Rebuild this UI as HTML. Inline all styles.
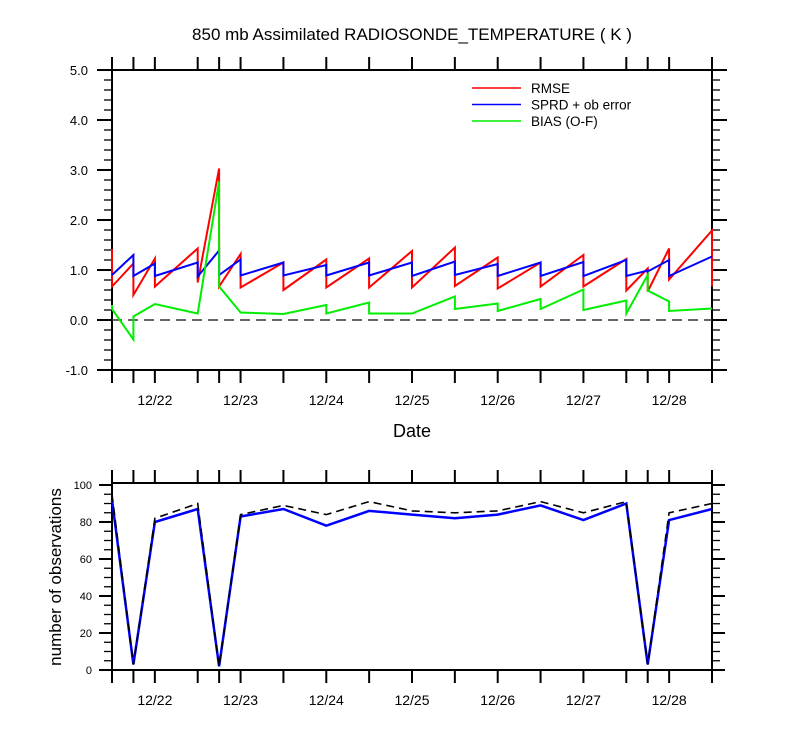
<!DOCTYPE html>
<html><head><meta charset="utf-8"><style>
body{margin:0;background:#fff;}
svg{display:block;font-family:"Liberation Sans",sans-serif;}
</style></head><body>
<svg id="c" width="800" height="750" xmlns="http://www.w3.org/2000/svg"></svg>
<script>
// data: hours since 12/21 12Z; duplicated times give the vertical jumps
const times = [0,0,6,6,12,12,24,24,30,30,36,36,48,48,60,60,72,72,84,84,96,96,108,108,120,120,132,132,144,144,150,150,156,156,168,168];
const rmse = [1.42,0.67,1.13,0.5,1.23,0.67,1.43,0.75,3.03,0.67,1.32,0.65,1.15,0.6,1.21,0.65,1.23,0.65,1.38,0.65,1.45,0.68,1.25,0.63,1.15,0.67,1.3,0.67,1.22,0.59,1.03,0.57,1.43,0.81,1.79,0.67];
const sprd = [0.9,0.9,1.3,0.88,1.13,0.88,1.15,0.87,1.39,0.9,1.21,0.89,1.15,0.89,1.1,0.89,1.15,0.89,1.15,0.88,1.17,0.9,1.12,0.88,1.15,0.88,1.16,0.88,1.2,0.88,0.99,0.97,1.2,0.88,1.27,1.27];
const bias = [0.3,0.22,-0.39,0.07,0.32,0.32,0.13,0.13,2.77,0.67,0.15,0.15,0.12,0.12,0.3,0.13,0.35,0.13,0.13,0.13,0.47,0.22,0.33,0.18,0.42,0.22,0.61,0.2,0.39,0.13,0.9,0.59,0.37,0.18,0.23,0.23];
const obsTimes = [0,6,12,24,30,36,48,60,72,84,96,108,120,132,144,150,156,168];
const nAssim = [92,3,80,87,2,83,87,78,86,84,82,84,89,81,90,3,81,87];
const nTotal = [95,3,82,90,2,84,89,84,91,86,85,86,91,85,91,3,85,90];
const yTicks1 = [-1,0,1,2,3,4,5];
const yTicks2 = [0,20,40,60,80,100];
const xTickHours = [0,6,12,24,30,36,48,60,72,84,96,108,120,132,144,150,156,168];
const dateLabels = ["12/22","12/23","12/24","12/25","12/26","12/27","12/28"];
const dateHours = [12,36,60,84,108,132,156];

const svg=document.getElementById('c');const NS='http://www.w3.org/2000/svg';
function mk(t,a,p){const e=document.createElementNS(NS,t);for(const k in a)e.setAttribute(k,a[k]);(p||svg).appendChild(e);return e;}
const X0=112,X1=712;
const xs=h=>X0+(X1-X0)*h/168;
const y1=v=>320-50*v;
const y2=v=>670-1.85*v;

function frame(top,bot,name){
  const r=mk('rect',{x:X0,y:top,width:X1-X0,height:bot-top,fill:'none',stroke:'#000','stroke-width':2});
  
  xTickHours.forEach(h=>{
    const x=xs(h);
    mk('line',{x1:x,x2:x,y1:bot,y2:bot+13,stroke:'#000','stroke-width':2});
    mk('line',{x1:x,x2:x,y1:top,y2:top-13,stroke:'#000','stroke-width':2});
  });
  dateLabels.forEach((d,i)=>{
    const t=mk('text',{x:xs(dateHours[i]),y:bot+35,'text-anchor':'middle','font-size':14});
    t.textContent=d;
    
  });
}
function series(xa,ya,fx,fy,color,w,dash,name){
  const pts=xa.map((h,i)=>fx(h).toFixed(1)+','+fy(ya[i]).toFixed(1)).join(' ');
  const a={points:pts,fill:'none',stroke:color,'stroke-width':w,'stroke-linejoin':'miter'};
  if(dash)a['stroke-dasharray']=dash;
  const p=mk('polyline',a);
  
}

let t=mk('text',{x:412,y:40,'text-anchor':'middle','font-size':17});
t.textContent='850 mb Assimilated RADIOSONDE_TEMPERATURE ( K )';


frame(70,370,'top-plot-frame');
for(let v=-1;v<=5.0001;v+=0.2){
  const y=y1(v);const major=Math.abs(v-Math.round(v))<1e-6;
  const L=major?15:8;
  mk('line',{x1:X0-L,x2:X0,y1:y,y2:y,stroke:'#000','stroke-width':major?2:1.3});
  mk('line',{x1:X1,x2:X1+L,y1:y,y2:y,stroke:'#000','stroke-width':major?2:1.3});
}
yTicks1.forEach(v=>{
  const tt=mk('text',{x:88,y:y1(v)+5,'text-anchor':'end','font-size':13});
  tt.textContent=v.toFixed(1);
  
});
let z=mk('line',{x1:X0,x2:X1,y1:y1(0),y2:y1(0),stroke:'#333','stroke-width':1.6,'stroke-dasharray':'10,6'});

series(times,rmse,xs,y1,'#ff0000',2,null,'rmse-line');
series(times,sprd,xs,y1,'#0000ff',2,null,'sprd-line');
series(times,bias,xs,y1,'#00ee00',2,null,'bias-line');
const leg=[['RMSE','#ff0000'],['SPRD + ob error','#0000ff'],['BIAS (O-F)','#00ee00']];
leg.forEach((l,i)=>{
  const g=mk('g',{});
  
  const y=88+i*16.5;
  mk('line',{x1:472,x2:521,y1:y,y2:y,stroke:l[1],'stroke-width':1.5},g);
  const tx=mk('text',{x:531,y:y+5,'font-size':13.5},g);tx.textContent=l[0];
});
t=mk('text',{x:412,y:437,'text-anchor':'middle','font-size':18});
t.textContent='Date';

frame(483,670,'bottom-plot-frame');
for(let v=0;v<=100;v+=5){
  const y=y2(v);const major=v%20===0;const L=major?13:8;
  mk('line',{x1:X0-L,x2:X0,y1:y,y2:y,stroke:'#000','stroke-width':major?2:1.3});
  mk('line',{x1:X1,x2:X1+L,y1:y,y2:y,stroke:'#000','stroke-width':major?2:1.3});
}
yTicks2.forEach(v=>{
  const tt=mk('text',{x:92,y:y2(v)+4,'text-anchor':'end','font-size':11});
  tt.textContent=v;
  
});
t=mk('text',{x:0,y:0,'text-anchor':'middle','font-size':17,transform:'translate(61,577) rotate(-90)'});
t.textContent='number of observations';
series(obsTimes,nAssim,xs,y2,'#0000ff',2.5,null,'assimilated-count-line');
series(obsTimes,nTotal,xs,y2,'#000',1.6,'8,5','total-count-line');
</script>
</body></html>
